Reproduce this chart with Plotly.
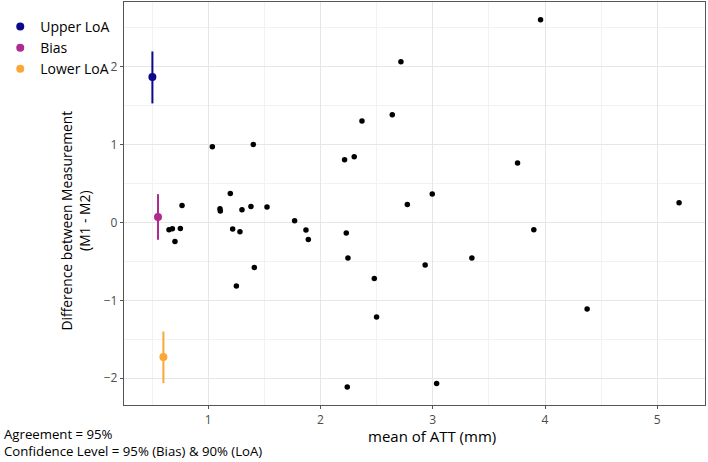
import plotly.graph_objects as go

# Bland-Altman points: mean of ATT (mm) vs difference (M1 - M2)
mean_att = [1.036, 1.401, 2.716, 2.639, 2.369, 2.214, 2.300, 2.773, 1.196, 0.766,
            1.104, 1.107, 1.300, 1.380, 1.523, 1.769, 0.650, 0.680, 0.751, 0.703,
            1.217, 1.282, 1.870, 1.891, 2.229, 2.244, 1.410, 1.250, 2.479, 2.499,
            2.238, 3.960, 2.995, 3.755, 5.194, 3.900, 3.348, 2.932, 4.375, 3.034]
diff_m = [0.972, 1.001, 2.063, 1.383, 1.301, 0.805, 0.843, 0.231, 0.372, 0.218,
          0.176, 0.146, 0.163, 0.206, 0.197, 0.022, -0.094, -0.081, -0.077, -0.244,
          -0.085, -0.119, -0.098, -0.218, -0.136, -0.457, -0.577, -0.817, -0.718, -1.215,
          -2.113, 2.602, 0.365, 0.762, 0.253, -0.094, -0.457, -0.547, -1.112, -2.067]

# Estimates with confidence intervals
est_names = ["Upper LoA", "Bias", "Lower LoA"]
est_x = [0.502, 0.552, 0.600]
est_y = [1.866, 0.069, -1.728]
est_lo = [1.528, -0.222, -2.062]
est_hi = [2.195, 0.364, -1.399]
est_colors = ["#0D0887", "#B12A90", "#FCA636"]

x_ticks = [1, 2, 3, 4, 5]
y_ticks = [-2, -1, 0, 1, 2]

caption_lines = ["Agreement = 95%", "Confidence Level = 95% (Bias) & 90% (LoA)"]

FONT = "Open Sans"

fig = go.Figure()
fig.add_trace(go.Scatter(x=mean_att, y=diff_m, mode="markers",
                         marker=dict(color="black", size=5.5),
                         showlegend=False, hoverinfo="x+y"))
for name, x, y, lo, hi, c in zip(est_names, est_x, est_y, est_lo, est_hi, est_colors):
    fig.add_trace(go.Scatter(
        x=[x], y=[y], mode="markers", name=name,
        marker=dict(color=c, size=8),
        error_y=dict(type="data", symmetric=False, array=[hi - y], arrayminus=[y - lo],
                     color=c, thickness=2, width=0),
    ))

axis_common = dict(
    showline=True, mirror=True, linecolor="#555555", linewidth=1.3,
    ticks="outside", ticklen=3, tickcolor="#555555", tickwidth=1,
    showgrid=True, gridcolor="#e6e6e6", gridwidth=1.3, zeroline=False,
    tickfont=dict(family=FONT, size=12, color="#4d4d4d"),
    automargin=False,
)

annotations = [
    dict(text="Difference between Measurement<br>(M1 - M2)", textangle=-90,
         xref="paper", yref="paper", x=-0.083, y=0.457, xanchor="center", yanchor="middle",
         showarrow=False, font=dict(family=FONT, size=13.8, color="black")),
    dict(text="mean of ATT (mm)", xref="paper", yref="paper", x=0.53, y=-0.078,
         xanchor="center", yanchor="middle", showarrow=False,
         font=dict(family=FONT, size=15, color="black")),
    dict(text="<br>".join(caption_lines), align="left", xref="paper", yref="paper",
         x=-0.209, y=-0.094, xanchor="left", yanchor="middle", showarrow=False,
         borderpad=0, font=dict(family=FONT, size=13.2, color="black")),
]

fig.update_layout(
    width=708, height=462,
    margin=dict(l=124, r=3, t=2, b=57, autoexpand=False),
    plot_bgcolor="white", paper_bgcolor="white",
    font=dict(family=FONT, size=13, color="black"),
    xaxis=dict(range=[0.249, 5.425], tickvals=x_ticks,
               minor=dict(dtick=0.5, tick0=0, showgrid=True, gridcolor="#f2f2f2", gridwidth=0.8),
               **axis_common),
    yaxis=dict(range=[-2.343, 2.83], tickvals=y_ticks,
               minor=dict(dtick=0.5, tick0=0, showgrid=True, gridcolor="#f2f2f2", gridwidth=0.8),
               **axis_common),
    legend=dict(x=-0.213, y=0.978, xanchor="left", yanchor="top",
                font=dict(family=FONT, size=14, color="black"),
                bgcolor="rgba(0,0,0,0)", itemwidth=30, tracegroupgap=0),
    showlegend=True,
    annotations=annotations,
)

fig.write_html("out.html", config={"displayModeBar": False},
               post_script="document.body.style.margin='0';document.body.style.overflow='hidden';")
